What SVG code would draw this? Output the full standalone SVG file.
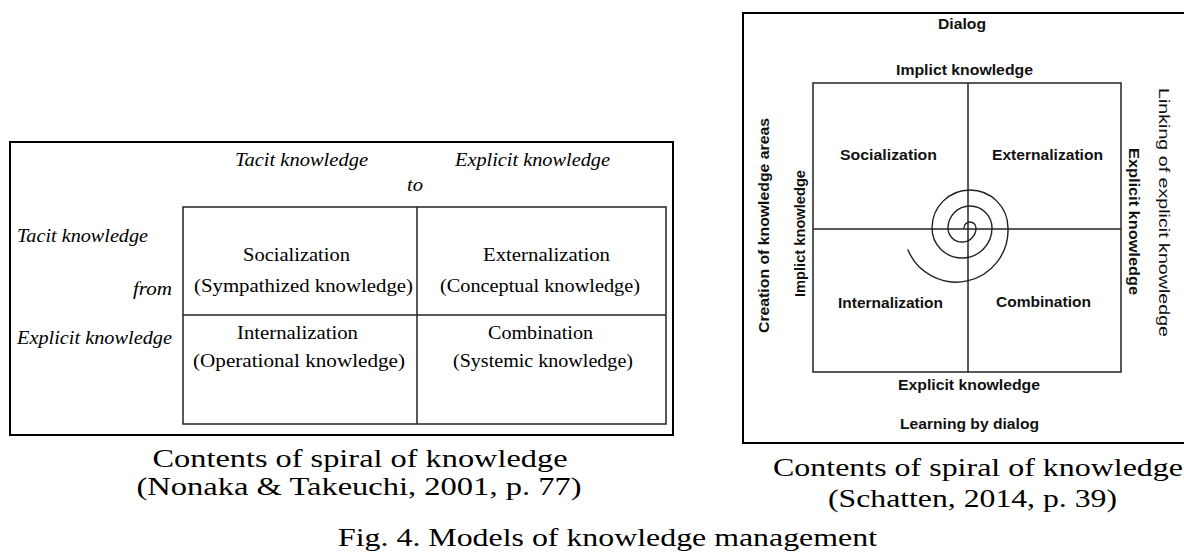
<svg xmlns="http://www.w3.org/2000/svg" width="1184" height="554" viewBox="0 0 1184 554">
  <style>
    .serif { font-family: "Liberation Serif", "Times New Roman", serif; fill: #000; }
    .it { font-style: italic; }
    .t18 { font-size: 18px; }
    .cap { font-size: 26px; }
    .sans { font-family: "Liberation Sans", Arial, sans-serif; font-weight: bold; font-size: 14px; fill: #111; }
    .frame { fill: none; stroke: #000; stroke-width: 2; }
    .grid { fill: none; stroke: #222; stroke-width: 1.5; }
    .spiral { fill: none; stroke: #222; stroke-width: 1.4; stroke-linecap: round; }
  </style>

  <!-- Left model: Nonaka & Takeuchi -->
  <g id="left-model">
    <rect class="frame" x="10" y="142" width="663" height="293"/>
    <g id="left-headers">
      <text class="serif it t18" x="301.5" y="166" text-anchor="middle" textLength="133" lengthAdjust="spacingAndGlyphs">Tacit knowledge</text>
      <text class="serif it t18" x="532.5" y="166" text-anchor="middle" textLength="155" lengthAdjust="spacingAndGlyphs">Explicit knowledge</text>
      <text class="serif it t18" x="415" y="191" text-anchor="middle" textLength="16" lengthAdjust="spacingAndGlyphs">to</text>
      <text class="serif it t18" x="17" y="242" textLength="131" lengthAdjust="spacingAndGlyphs">Tacit knowledge</text>
      <text class="serif it t18" x="172" y="295" text-anchor="end" textLength="39" lengthAdjust="spacingAndGlyphs">from</text>
      <text class="serif it t18" x="17" y="344" textLength="155" lengthAdjust="spacingAndGlyphs">Explicit knowledge</text>
    </g>
    <g id="left-grid">
      <rect class="grid" x="183" y="207" width="483" height="217"/>
      <line class="grid" x1="417" y1="207" x2="417" y2="424"/>
      <line class="grid" x1="183" y1="315" x2="666" y2="315"/>
    </g>
    <g id="left-socialization">
      <text class="serif t18" x="296.5" y="261" text-anchor="middle" textLength="107" lengthAdjust="spacingAndGlyphs">Socialization</text>
      <text class="serif t18" x="303.5" y="292" text-anchor="middle" textLength="219" lengthAdjust="spacingAndGlyphs">(Sympathized knowledge)</text>
    </g>
    <g id="left-externalization">
      <text class="serif t18" x="546.5" y="261" text-anchor="middle" textLength="127" lengthAdjust="spacingAndGlyphs">Externalization</text>
      <text class="serif t18" x="540" y="292" text-anchor="middle" textLength="200" lengthAdjust="spacingAndGlyphs">(Conceptual knowledge)</text>
    </g>
    <g id="left-internalization">
      <text class="serif t18" x="297.5" y="339" text-anchor="middle" textLength="121" lengthAdjust="spacingAndGlyphs">Internalization</text>
      <text class="serif t18" x="299" y="367" text-anchor="middle" textLength="212" lengthAdjust="spacingAndGlyphs">(Operational knowledge)</text>
    </g>
    <g id="left-combination">
      <text class="serif t18" x="540.5" y="339" text-anchor="middle" textLength="105" lengthAdjust="spacingAndGlyphs">Combination</text>
      <text class="serif t18" x="543" y="367" text-anchor="middle" textLength="180" lengthAdjust="spacingAndGlyphs">(Systemic knowledge)</text>
    </g>
  </g>

  <!-- Right model: Schatten -->
  <g id="right-model">
    <rect class="frame" x="743" y="13" width="446" height="430"/>
    <g id="right-labels">
      <text class="sans" x="962" y="29" text-anchor="middle" textLength="48" lengthAdjust="spacingAndGlyphs">Dialog</text>
      <text class="sans" x="964.5" y="75" text-anchor="middle" textLength="137" lengthAdjust="spacingAndGlyphs">Implict knowledge</text>
      <text class="sans" x="969" y="390" text-anchor="middle" textLength="142" lengthAdjust="spacingAndGlyphs">Explicit knowledge</text>
      <text class="sans" x="969.5" y="429" text-anchor="middle" textLength="139" lengthAdjust="spacingAndGlyphs">Learning by dialog</text>
      <text class="sans" transform="translate(769 225.5) rotate(-90)" text-anchor="middle" textLength="215" lengthAdjust="spacingAndGlyphs">Creation of knowledge areas</text>
      <text class="sans" transform="translate(805 233.5) rotate(-90)" text-anchor="middle" textLength="127" lengthAdjust="spacingAndGlyphs">Implict knowledge</text>
      <text class="sans" transform="translate(1129 221.5) rotate(90)" text-anchor="middle" textLength="147" lengthAdjust="spacingAndGlyphs">Explicit knowledge</text>
      <text class="sans" style="font-weight:normal;font-size:15px" transform="translate(1159 212.5) rotate(90)" text-anchor="middle" textLength="249" lengthAdjust="spacingAndGlyphs">Linking of explicit knowledge</text>
    </g>
    <g id="right-grid">
      <rect class="grid" x="813" y="83" width="308" height="289"/>
      <line class="grid" x1="968" y1="83" x2="968" y2="372"/>
      <line class="grid" x1="813" y1="229" x2="1121" y2="229"/>
    </g>
    <g id="right-socialization">
      <text class="sans" x="888.5" y="160" text-anchor="middle" textLength="97" lengthAdjust="spacingAndGlyphs">Socialization</text>
    </g>
    <g id="right-externalization">
      <text class="sans" x="1047.5" y="160" text-anchor="middle" textLength="111" lengthAdjust="spacingAndGlyphs">Externalization</text>
    </g>
    <g id="right-internalization">
      <text class="sans" x="890.5" y="308" text-anchor="middle" textLength="105" lengthAdjust="spacingAndGlyphs">Internalization</text>
    </g>
    <g id="right-combination">
      <text class="sans" x="1043.5" y="307" text-anchor="middle" textLength="95" lengthAdjust="spacingAndGlyphs">Combination</text>
    </g>
    <g id="connectors">
      <path class="spiral" d="M964 228 A6 6 0 0 1 976 228 A14 14 0 0 1 948 228 A22 22 0 0 1 992 228 A30 30 0 0 1 932 228 A38 38 0 0 1 1008 228 A52 52 0 0 1 908 250"/>
    </g>
  </g>

  <!-- Captions -->
  <g id="captions">
    <text class="serif cap" x="360" y="467" text-anchor="middle" textLength="415" lengthAdjust="spacingAndGlyphs">Contents of spiral of knowledge</text>
    <text class="serif cap" x="359" y="495" text-anchor="middle" textLength="445" lengthAdjust="spacingAndGlyphs">(Nonaka &amp; Takeuchi, 2001, p. 77)</text>
    <text class="serif cap" x="978" y="476" text-anchor="middle" textLength="410" lengthAdjust="spacingAndGlyphs">Contents of spiral of knowledge</text>
    <text class="serif cap" x="972.5" y="507" text-anchor="middle" textLength="289" lengthAdjust="spacingAndGlyphs">(Schatten, 2014, p. 39)</text>
    <text class="serif cap" x="607.5" y="546" text-anchor="middle" textLength="539" lengthAdjust="spacingAndGlyphs">Fig. 4. Models of knowledge management</text>
  </g>
</svg>
